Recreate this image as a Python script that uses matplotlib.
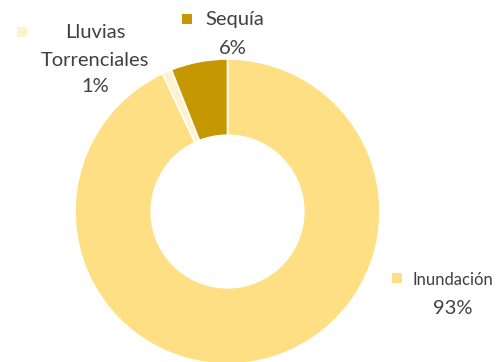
import matplotlib.pyplot as plt
from matplotlib.patches import Rectangle

categories = ["Inundación", "Lluvias\nTorrenciales", "Sequía"]
values = [93, 1, 6]
colors = ["#FFDF84", "#FFF2CC", "#C59700"]
pct_labels = ["93%", "1%", "6%"]

W, H = 503, 362
fig = plt.figure(figsize=(W / 100, H / 100), dpi=100)
fig.patch.set_facecolor("white")

# donut centre and radius in pixels
cx, cy, r = 227.5, 211.5, 152.5
ax = fig.add_axes([(cx - r) / W, (H - cy - r) / H, 2 * r / W, 2 * r / H])
ax.pie(values, colors=colors, startangle=90, counterclock=False,
       wedgeprops=dict(width=0.5, edgecolor="white", linewidth=1.2))
ax.set_xlim(-1, 1)
ax.set_ylim(-1, 1)
ax.set_aspect("equal")
ax.axis("off")

txt_color = "#404040"
font = "Lato"
fs = 14.5


def px(x, y):
    return x / W, 1 - y / H


def key(x, y, color):
    s = 10
    fig.patches.append(Rectangle(px(x, y + s), s / W, s / H, transform=fig.transFigure,
                                 facecolor=color, edgecolor="none"))


# Lluvias Torrenciales
key(17, 27, colors[1])
fig.text(*px(95, 33), "Lluvias", ha="center", va="center", color=txt_color, fontsize=fs, family=font)
fig.text(*px(95, 60), "Torrenciales", ha="center", va="center", color=txt_color, fontsize=fs, family=font)
fig.text(*px(95, 87), pct_labels[1], ha="center", va="center", color=txt_color, fontsize=fs, family=font)

# Sequía
key(182, 14, colors[2])
fig.text(*px(205, 20), categories[2], ha="left", va="center", color=txt_color, fontsize=fs, family=font)
fig.text(*px(233, 48), pct_labels[2], ha="center", va="center", color=txt_color, fontsize=fs, family=font)

# Inundación
key(392, 273, colors[0])
fig.text(*px(413, 280), categories[0], ha="left", va="center", color=txt_color, fontsize=12,
         family=font)
fig.text(*px(453, 308), pct_labels[0], ha="center", va="center", color=txt_color, fontsize=fs, family=font)

fig.savefig("out.png", dpi=100, facecolor="white")
